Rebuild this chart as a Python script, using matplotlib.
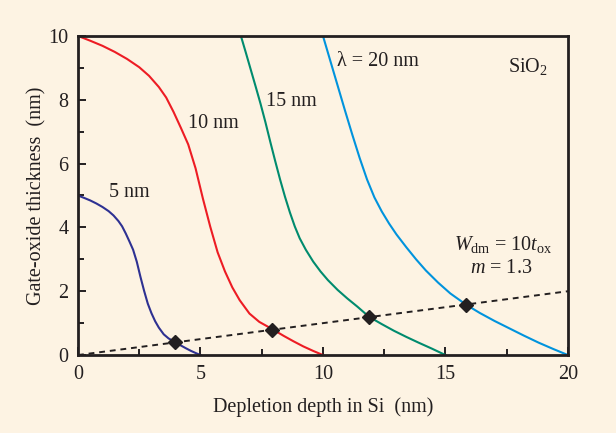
import matplotlib
matplotlib.use("Agg")
import matplotlib.pyplot as plt
from matplotlib.ticker import MultipleLocator

# ---- data ----
x5 = [0, 0.25, 0.5, 0.75, 1.0, 1.25, 1.45, 1.65, 1.8, 1.95, 2.1, 2.25, 2.4, 2.55, 2.7, 2.85, 3.0, 3.15, 3.3, 3.5, 3.7, 3.98, 4.2, 4.4, 4.6, 4.8, 5.0]
y5 = [5.0, 4.925, 4.845, 4.75, 4.64, 4.51, 4.375, 4.2, 4.035, 3.81, 3.56, 3.3, 2.925, 2.45, 2.01, 1.61, 1.31, 1.06, 0.86, 0.65, 0.52, 0.40, 0.30, 0.215, 0.135, 0.065, 0.0]

x10 = [0, 0.5, 1.0, 1.5, 2.0, 2.5, 2.9, 3.3, 3.6, 3.9, 4.2, 4.5, 4.8, 5.1, 5.4, 5.7, 6.0, 6.3, 6.6, 7.0, 7.4, 7.96, 8.4, 8.8, 9.2, 9.6, 10.0]
y10 = [10.0, 9.85, 9.69, 9.5, 9.28, 9.02, 8.75, 8.4, 8.07, 7.62, 7.12, 6.6, 5.85, 4.9, 4.02, 3.22, 2.62, 2.12, 1.72, 1.30, 1.04, 0.80, 0.6, 0.43, 0.27, 0.13, 0.0]

x15 = [6.65, 6.85, 7.05, 7.25, 7.45, 7.65, 7.85, 8.05, 8.25, 8.45, 8.65, 8.85, 9.05, 9.3, 9.6, 9.9, 10.2, 10.6, 11.0, 11.4, 11.88, 12.4, 12.9, 13.4, 13.9, 14.45, 15.0]
y15 = [10.0, 9.48, 8.95, 8.42, 7.88, 7.3, 6.68, 6.08, 5.5, 4.96, 4.47, 4.03, 3.66, 3.3, 2.93, 2.62, 2.35, 2.04, 1.77, 1.52, 1.2, 0.97, 0.76, 0.57, 0.39, 0.2, 0.0]

x20 = [10.0, 10.3, 10.6, 10.9, 11.2, 11.5, 11.8, 12.1, 12.4, 12.7, 13.0, 13.4, 13.8, 14.2, 14.7, 15.2, 15.84, 16.4, 17.0, 17.6, 18.2, 18.8, 19.4, 20.0]
y20 = [10.0, 9.22, 8.44, 7.66, 6.9, 6.17, 5.5, 4.94, 4.5, 4.12, 3.78, 3.38, 3.0, 2.65, 2.27, 1.93, 1.58, 1.32, 1.07, 0.84, 0.61, 0.39, 0.19, 0.0]

line_x = [0, 20]
line_y = [0, 2]

mark_x = [3.96, 7.92, 11.88, 15.84]
mark_y = [0.40, 0.79, 1.19, 1.58]

xticks = [0, 5, 10, 15, 20]
yticks = [0, 2, 4, 6, 8, 10]

# ---- style ----
bg = "#FDF3E3"
dark = "#231F20"
plt.rcParams["font.family"] = ["Liberation Serif", "DejaVu Serif"]
plt.rcParams["mathtext.fontset"] = "custom"
plt.rcParams["mathtext.rm"] = "Liberation Serif"
plt.rcParams["mathtext.it"] = "Liberation Serif:italic"

fig = plt.figure(figsize=(6.16, 4.33), dpi=100, facecolor=bg)
ax = fig.add_axes([0.1266, 0.180, 0.7954, 0.737], facecolor=bg)

lw = 1.5
ax.plot(x5, y5, color="#2E3192", lw=lw, solid_joinstyle="round")
ax.plot(x10, y10, color="#ED1C24", lw=lw, solid_joinstyle="round")
ax.plot(x15, y15, color="#008B6E", lw=lw, solid_joinstyle="round")
ax.plot(x20, y20, color="#0093DD", lw=lw, solid_joinstyle="round")
ax.plot(line_x, line_y, color=dark, lw=1.4, ls=(0, (3.0, 2.5)))
ax.plot(mark_x, mark_y, ls="none", marker="D", ms=7.5, color=dark, zorder=5)

ax.set_xlim(0, 20)
ax.set_ylim(0, 10)
ax.set_xticks(xticks)
ax.set_yticks(yticks)
ax.xaxis.set_minor_locator(MultipleLocator(2.5))
ax.yaxis.set_minor_locator(MultipleLocator(1))
fs = 14.5
ax.tick_params(which="both", direction="in", top=False, right=False, color=dark,
               labelsize=fs, labelcolor=dark, width=1.4)
ax.tick_params(which="major", length=6, pad=7)
ax.tick_params(which="minor", length=4)
for s in ax.spines.values():
    s.set_linewidth(2.0)
    s.set_color(dark)

ax.set_xlabel("Depletion depth in Si  (nm)", fontsize=fs, color=dark, labelpad=10)
ax.set_ylabel("Gate-oxide thickness  (nm)", fontsize=fs, color=dark, labelpad=1)

ax.text(1.28, 5.08, "5 nm", fontsize=fs, color=dark, va="center", ha="left")
ax.text(4.5, 7.26, "10 nm", fontsize=fs, color=dark, va="center", ha="left")
ax.text(7.67, 7.94, "15 nm", fontsize=fs, color=dark, va="center", ha="left")
ax.text(10.59, 9.2, "λ = 20 nm", fontsize=fs, color=dark, va="center", ha="left")
ax.text(17.56, 9.04, r"SiO$_2$", fontsize=fs, color=dark, va="center", ha="left")
ax.text(17.36, 3.45, r"$W_{\rm dm}$ = 10$t_{\rm ox}$", fontsize=fs, color=dark, va="center", ha="center")
ax.text(17.29, 2.72, r"$m$ = 1.3", fontsize=fs, color=dark, va="center", ha="center")

fig.savefig("out.png", dpi=100, facecolor=bg)
